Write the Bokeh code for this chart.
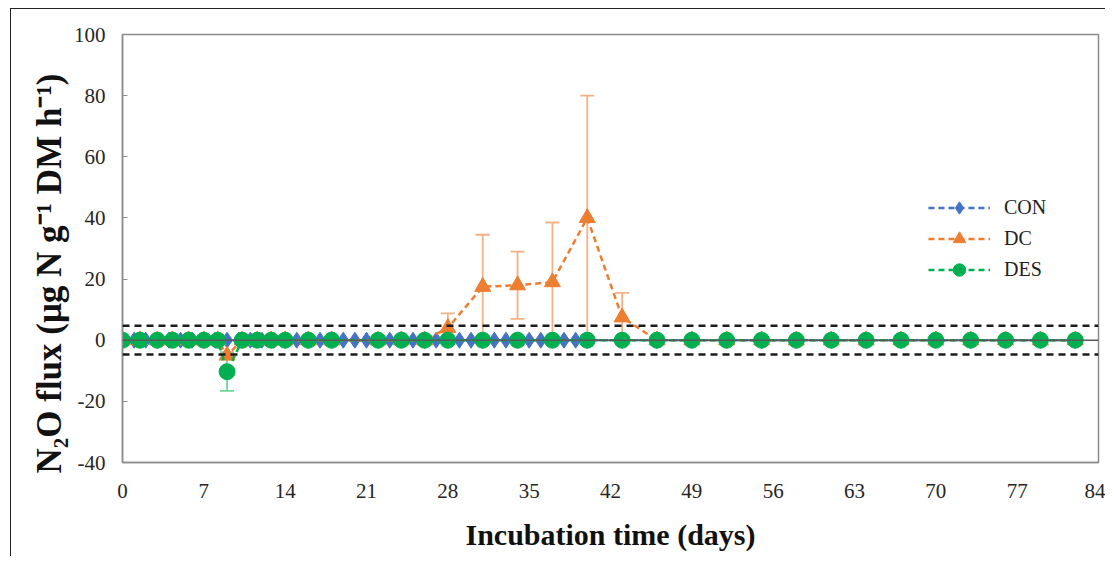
from bokeh.plotting import figure
from bokeh.models import (ColumnDataSource, Span, Whisker, TeeHead, Legend, LegendItem,
                          FixedTicker, Title)
from bokeh.embed import file_html
from bokeh.resources import INLINE

# ---- data ----
con_days = list(range(0, 41)) + [43, 46, 49, 52, 55, 58, 61, 64, 67, 70, 73, 76, 79, 82]
con_vals = [0.0] * len(con_days)

des_days = [0, 1.5, 3, 4.3, 5.7, 7, 8.2, 9, 10.3, 11.6, 12.8, 14, 16, 18, 22, 24, 26, 28,
            31, 34, 37, 40, 43, 46, 49, 52, 55, 58, 61, 64, 67, 70, 73, 76, 79, 82]
des_vals = [0, 0, 0, 0, 0, 0, 0, -10.3, 0, 0, 0, 0, 0, 0, 0, 0, 0, 0,
            0, 0, 0, 0, 0, 0, 0, 0, 0, 0, 0, 0, 0, 0, 0, 0, 0, 0]
des_err = [0, 0, 0, 0, 0, 0, 0, 6.3, 0, 0, 0, 0, 0, 0, 0, 0, 0, 0,
           0, 0, 0, 0, 0, 0, 0, 0, 0, 0, 0, 0, 0, 0, 0, 0, 0, 0]

dc_days = des_days
dc_vals = [0, 0, 0, 0, 0, 0, 0, -5.0, 0, 0, 0, 0, 0, 0, 0, 0, 0, 4.0,
           17.5, 18.0, 19.0, 40.0, 7.5, 0, 0, 0, 0, 0, 0, 0, 0, 0, 0, 0, 0, 0]
dc_err = [0, 0, 0, 0, 0, 0, 0, 1.0, 0, 0, 0, 0, 0, 0, 0, 0, 0, 4.8,
          17.0, 11.0, 19.5, 40.0, 8.0, 0, 0, 0, 0, 0, 0, 0, 0, 0, 0, 0, 0, 0]

x_ticks = [0, 7, 14, 21, 28, 35, 42, 49, 56, 63, 70, 77, 84]
y_ticks = [-40, -20, 0, 20, 40, 60, 80, 100]
y_tick_labels = {-40: "-40", -20: "-20"}
limit_level = 4.7
y_title = "N\u2082O flux (\u03bcg N g\u207b\u00b9 DM h\u207b\u00b9)"

BLUE = "#4472C4"
ORANGE = "#ED7D31"
GREEN = "#00B050"
ORANGE_ERR = "#F4B183"
GREEN_ERR = "#6FD69A"
FONT = "Liberation Serif"

p = figure(width=1095, height=548, x_range=(0, 84), y_range=(-40, 100),
           output_backend="svg", toolbar_location=None,
           min_border_left=111, min_border_right=8, min_border_top=25, min_border_bottom=95)
p.styles = {"border-top": "1px solid #222", "border-left": "1px solid #222",
            "margin-left": "10px", "margin-top": "8px"}

p.grid.visible = False
p.outline_line_color = "#8C8C8C"
p.outline_line_width = 1.5

# axes
p.xaxis.ticker = FixedTicker(ticks=x_ticks)
p.yaxis.ticker = FixedTicker(ticks=y_ticks)
p.yaxis.major_label_overrides = y_tick_labels
for ax in (p.xaxis[0], p.yaxis[0]):
    ax.major_label_text_font = FONT
    ax.major_label_text_font_size = "21px"
    ax.major_label_text_color = "#262626"
    ax.axis_label_text_font = FONT
    ax.axis_label_text_font_style = "bold"
    ax.axis_label_text_color = "#111111"
    ax.minor_tick_line_color = None
    ax.major_tick_out = 0
    ax.axis_line_color = "#8C8C8C"
    ax.axis_line_width = 1.5
p.xaxis.major_tick_line_color = None
p.xaxis.major_label_standoff = 21
p.xaxis.axis_label = "Incubation time (days)"
p.xaxis.axis_label_text_font_size = "30px"
p.xaxis.axis_label_standoff = 17
p.yaxis.major_tick_in = 5
p.yaxis.major_tick_line_color = "#8C8C8C"
p.yaxis.major_label_standoff = 17

# y title as a side title, anchored at the bottom (the original sits below the frame centre)
p.add_layout(Title(text=y_title, align="left", offset=-11, standoff=4,
                   text_font=FONT, text_font_style="bold", text_font_size="35px",
                   text_color="#111111"), "left")

# zero line
p.add_layout(Span(location=0, dimension="width", line_color="#595959", line_width=1.5))

src_con = ColumnDataSource(dict(x=con_days, y=con_vals))
src_dc = ColumnDataSource(dict(x=dc_days, y=dc_vals,
                               lo=[v - e for v, e in zip(dc_vals, dc_err)],
                               hi=[v + e for v, e in zip(dc_vals, dc_err)]))
src_des = ColumnDataSource(dict(x=des_days, y=des_vals,
                                lo=[v - e for v, e in zip(des_vals, des_err)],
                                hi=[v + e for v, e in zip(des_vals, des_err)]))

# CON
l_con = p.line("x", "y", source=src_con, line_color=BLUE, line_width=2.5, line_dash="6 4")
m_con = p.scatter("x", "y", source=src_con, marker="diamond", size=16, color=BLUE)

# DC
w_dc = Whisker(base="x", lower="lo", upper="hi", source=src_dc, line_color=ORANGE_ERR,
               line_width=1.8,
               upper_head=TeeHead(size=14, line_color=ORANGE_ERR, line_width=1.8),
               lower_head=TeeHead(size=14, line_color=ORANGE_ERR, line_width=1.8))
p.add_layout(w_dc)
l_dc = p.line("x", "y", source=src_dc, line_color=ORANGE, line_width=2.5, line_dash="6 4")
m_dc = p.scatter("x", "y", source=src_dc, marker="triangle", size=16, color=ORANGE)

# DES
w_des = Whisker(base="x", lower="lo", upper="hi", source=src_des, line_color=GREEN_ERR,
                line_width=1.8,
                upper_head=TeeHead(size=14, line_color=GREEN_ERR, line_width=1.8),
                lower_head=TeeHead(size=14, line_color=GREEN_ERR, line_width=1.8))
p.add_layout(w_des)
l_des = p.line("x", "y", source=src_des, line_color=GREEN, line_width=2.5, line_dash="6 4")
m_des = p.scatter("x", "y", source=src_des, marker="circle", size=16, color=GREEN)

# detection-limit dashed lines
for lv in (limit_level, -limit_level):
    p.add_layout(Span(location=lv, dimension="width", line_color="#1a1a1a",
                      line_width=2.5, line_dash="7 5"))

legend = Legend(items=[
    LegendItem(label="CON", renderers=[l_con, m_con]),
    LegendItem(label="DC", renderers=[l_dc, m_dc]),
    LegendItem(label="DES", renderers=[l_des, m_des]),
], location=(806, 177))
legend.label_text_font = FONT
legend.label_text_font_size = "20px"
legend.label_text_color = "#222222"
legend.glyph_width = 62
legend.glyph_height = 31
legend.label_height = 31
legend.spacing = 0
legend.padding = 0
legend.margin = 0
legend.label_standoff = 14
legend.border_line_color = None
legend.background_fill_alpha = 0
p.add_layout(legend)

open("out.html", "w").write(file_html(p, INLINE))
